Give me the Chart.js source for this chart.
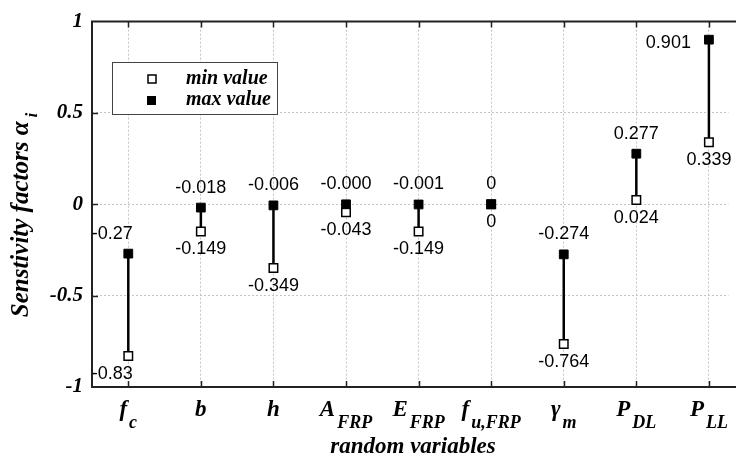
<!DOCTYPE html>
<html>
<head>
<meta charset="utf-8">
<script src="https://cdn.jsdelivr.net/npm/chart.js@4"></script>
<style>
  html, body { margin: 0; padding: 0; background: #fff; overflow: hidden; }
  #wrap { width: 736px; height: 459px; }
</style>
</head>
<body>
<div id="wrap"><canvas id="myChart" width="736" height="459"></canvas></div>
<script>
// Data
const categories = [['f', 'c'], ['b', ''], ['h', ''], ['A', 'FRP'], ['E', 'FRP'], ['f', 'u,FRP'], ['\u03b3', 'm'], ['P', 'DL'], ['P', 'LL']];
const minValues = [-0.83, -0.149, -0.349, -0.043, -0.149, 0, -0.764, 0.024, 0.339];
const maxValues = [-0.27, -0.018, -0.006, -0.000, -0.001, 0, -0.274, 0.277, 0.901];
const minLabels = ['-0.83', '-0.149', '-0.349', '-0.043', '-0.149', '0', '-0.764', '0.024', '0.339'];
const maxLabels = ['-0.27', '-0.018', '-0.006', '-0.000', '-0.001', '0', '-0.274', '0.277', '0.901'];
const yTicks = [-1, -0.5, 0, 0.5, 1];

const SERIF = '"Liberation Serif", "Times New Roman", serif';
const SANS = '"Liberation Sans", Arial, sans-serif';

// stems: min -> max for each variable, broken by null points
const stems = [];
categories.forEach((c, i) => {
    stems.push({ x: i, y: minValues[i] });
    stems.push({ x: i, y: maxValues[i] });
    stems.push({ x: i, y: null });
});

// draws frame, labels, legend, subscripted axis text
const decorations = {
    id: 'decorations',
    afterDraw(chart) {
        const ctx = chart.ctx;
        const a = chart.chartArea;
        const xs = chart.scales.x;
        const ys = chart.scales.y;
        ctx.save();

        // frame
        ctx.strokeStyle = '#222';
        ctx.lineWidth = 2;
        ctx.beginPath();
        ctx.moveTo(chart.width, a.top);
        ctx.lineTo(a.left, a.top);
        ctx.lineTo(a.left, a.bottom);
        ctx.lineTo(chart.width, a.bottom);
        ctx.stroke();

        // inner tick marks
        ctx.lineWidth = 1.5;
        ctx.beginPath();
        categories.forEach((c, i) => {
            const px = Math.round(xs.getPixelForValue(i)) + 0.5;
            ctx.moveTo(px, a.top); ctx.lineTo(px, a.top + 6);
            ctx.moveTo(px, a.bottom); ctx.lineTo(px, a.bottom - 6);
        });
        [-0.5, 0, 0.5].forEach(v => {
            const py = Math.round(ys.getPixelForValue(v)) + 0.5;
            ctx.moveTo(a.left, py); ctx.lineTo(a.left + 6, py);
        });
        ctx.stroke();

        // value labels
        ctx.fillStyle = '#000';
        ctx.font = '18px ' + SANS;
        ctx.textBaseline = 'middle';
        categories.forEach((c, i) => {
            const px = xs.getPixelForValue(i);
            const pyMax = ys.getPixelForValue(maxValues[i]);
            const pyMin = ys.getPixelForValue(minValues[i]);
            const shift = i === 0 ? -16 : 0;
            if (i === categories.length - 1) {
                ctx.textAlign = 'right';
                ctx.fillText(maxLabels[i], px - 18, pyMax + 3);
            } else {
                ctx.textAlign = 'center';
                ctx.fillText(maxLabels[i], px + shift, pyMax - 20);
            }
            ctx.textAlign = 'center';
            ctx.fillText(minLabels[i], px + shift, pyMin + 18);
        });

        // category labels with subscripts
        ctx.textBaseline = 'alphabetic';
        ctx.textAlign = 'left';
        const mainFont = 'italic bold 23px ' + SERIF;
        const subFont = 'italic bold 18px ' + SERIF;
        categories.forEach((c, i) => {
            const px = xs.getPixelForValue(i);
            ctx.font = mainFont;
            const w1 = ctx.measureText(c[0]).width;
            ctx.font = subFont;
            const w2 = c[1] ? ctx.measureText(c[1]).width + 2 : 0;
            const x0 = px - (w1 + w2) / 2;
            ctx.font = mainFont;
            ctx.fillText(c[0], x0, 416);
            if (c[1]) {
                ctx.font = subFont;
                ctx.fillText(c[1], x0 + w1 + 2, 428);
            }
        });

        // x title
        ctx.font = 'italic bold 23px ' + SERIF;
        ctx.textAlign = 'center';
        ctx.fillText('random variables', 413, 453);

        // y title, rotated
        ctx.save();
        ctx.translate(28, 215);
        ctx.rotate(-Math.PI / 2);
        const tMain = 'Senstivity factors \u03b1';
        ctx.font = 'italic bold 25px ' + SERIF;
        const tw = ctx.measureText(tMain).width;
        ctx.font = 'italic bold 17px ' + SERIF;
        const sw = ctx.measureText('i').width;
        const start = -(tw + sw + 4) / 2;
        ctx.textAlign = 'left';
        ctx.font = 'italic bold 25px ' + SERIF;
        ctx.fillText(tMain, start, 0);
        ctx.font = 'italic bold 17px ' + SERIF;
        ctx.fillText('i', start + tw + 4, 9);
        ctx.restore();

        // legend box
        ctx.fillStyle = '#fff';
        ctx.fillRect(112, 62, 165, 52);
        ctx.strokeStyle = '#444';
        ctx.lineWidth = 1;
        ctx.strokeRect(112.5, 62.5, 165, 52);
        ctx.fillStyle = '#fff';
        ctx.strokeStyle = '#000';
        ctx.lineWidth = 1.5;
        ctx.fillRect(148, 75, 8, 8);
        ctx.strokeRect(148, 75, 8, 8);
        ctx.fillStyle = '#000';
        ctx.fillRect(147, 96, 9, 9);
        ctx.font = 'italic bold 20px ' + SERIF;
        ctx.textAlign = 'left';
        ctx.textBaseline = 'middle';
        ctx.fillText('min value', 186, 79);
        ctx.fillText('max value', 186, 100);

        ctx.restore();
    }
};

function createChart() {
    const ctx = document.getElementById('myChart').getContext('2d');
    return new Chart(ctx, {
        type: 'scatter',
        data: {
            datasets: [
                {
                    label: 'max value',
                    data: maxValues.map((v, i) => ({ x: i, y: v })),
                    pointStyle: 'rect',
                    pointRadius: 6.2,
                    backgroundColor: '#000',
                    borderColor: '#000',
                    borderWidth: 1
                },
                {
                    label: 'min value',
                    data: minValues.map((v, i) => ({ x: i, y: v })),
                    pointStyle: 'rect',
                    pointRadius: 6,
                    backgroundColor: '#fff',
                    borderColor: '#000',
                    borderWidth: 1.5
                },
                {
                    label: 'range',
                    data: stems,
                    showLine: true,
                    spanGaps: false,
                    pointRadius: 0,
                    borderColor: '#000',
                    borderWidth: 2.5
                }
            ]
        },
        options: {
            responsive: false,
            animation: false,
            events: [],
            layout: { padding: { top: 16, right: 0, bottom: 0, left: 0 } },
            plugins: {
                legend: { display: false },
                tooltip: { enabled: false }
            },
            scales: {
                x: {
                    type: 'linear',
                    min: -0.5,
                    max: 8.27,
                    afterBuildTicks: s => { s.ticks = categories.map((c, i) => ({ value: i })); },
                    afterFit: s => { s.height = 72; },
                    ticks: { display: false },
                    grid: { color: '#c4c4c4', lineWidth: 1, drawTicks: false },
                    border: { display: false, dash: [2, 2] }
                },
                y: {
                    min: -1,
                    max: 1,
                    afterBuildTicks: s => { s.ticks = yTicks.map(v => ({ value: v })); },
                    afterFit: s => { s.width = 92; },
                    ticks: {
                        color: '#000',
                        padding: 9,
                        font: { family: SERIF, size: 21, style: 'italic', weight: 'bold' },
                        callback: v => String(v)
                    },
                    grid: { color: '#c4c4c4', lineWidth: 1, drawTicks: false },
                    border: { display: false, dash: [2, 2] }
                }
            }
        },
        plugins: [decorations]
    });
}

createChart();
</script>
</body>
</html>
